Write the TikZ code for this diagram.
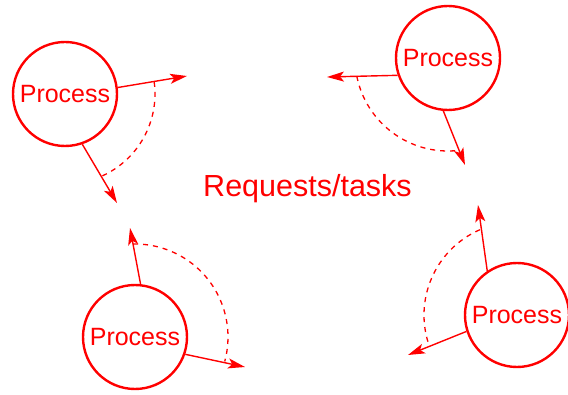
\documentclass[tikz,border=0pt]{standalone}
\usepackage{fontspec}
\setmainfont{Liberation Sans}
\usetikzlibrary{arrows.meta}
\begin{document}
\begin{tikzpicture}[x=1pt,y=1pt,
  proc/.style={circle,draw=red,line width=2.4pt,minimum size=104pt,inner sep=0pt,
    text=red,font=\fontsize{25}{30}\selectfont},
  flow/.style={draw=red,line width=1.4pt,
    -{Stealth[length=17pt,width=10pt,inset=4pt]}},
  sweep/.style={draw=red,line width=1.3pt,dash pattern=on 5pt off 5pt}]
\useasboundingbox (0,0) rectangle (568,394);

% four processes around the shared pool
\node[proc] (p1) at (65,300) {Process};
\node[proc] (p2) at (448,336) {Process};
\node[proc] (p3) at (135,57) {Process};
\node[proc] (p4) at (517,79) {Process};

\node[text=red,font=\fontsize{30.5}{36}\selectfont,anchor=base] (pool) at (307.5,197) {Requests/tasks};

% arrow tips
\coordinate (t1a) at (187,318);
\coordinate (t1b) at (117,191);
\coordinate (t2a) at (327,317);
\coordinate (t2b) at (465,229);
\coordinate (t3a) at (130,166);
\coordinate (t3b) at (245,27);
\coordinate (t4a) at (478,189);
\coordinate (t4b) at (408,39);

\draw[flow] (p1.7.5) -- (t1a);
\draw[flow] (p1.-71.6) -- (t1b);
\draw[flow] (p2.199.4) -- (t2a);
\draw[flow] (p2.-95) -- (t2b);
\draw[flow] (p3.84.5) -- (t3a);
\draw[flow] (p3.-19) -- (t3b);
\draw[flow] (p4.124) -- (t4a);
\draw[flow] (p4.198.8) -- (t4b);

% dashed sweeps between each pair of arrows
\draw[sweep] (p1.center) ++(7.7:90) arc[start angle=7.7,end angle=-65.4,radius=90];
\draw[sweep] (p2.center) ++(191.2:93) arc[start angle=191.2,end angle=276,radius=93];
\draw[sweep] (p3.center) ++(91.2:93) arc[start angle=91.2,end angle=-15.2,radius=93];
\draw[sweep] (p4.center) ++(113.5:93) arc[start angle=113.5,end angle=199.8,radius=93];
\end{tikzpicture}
\end{document}
